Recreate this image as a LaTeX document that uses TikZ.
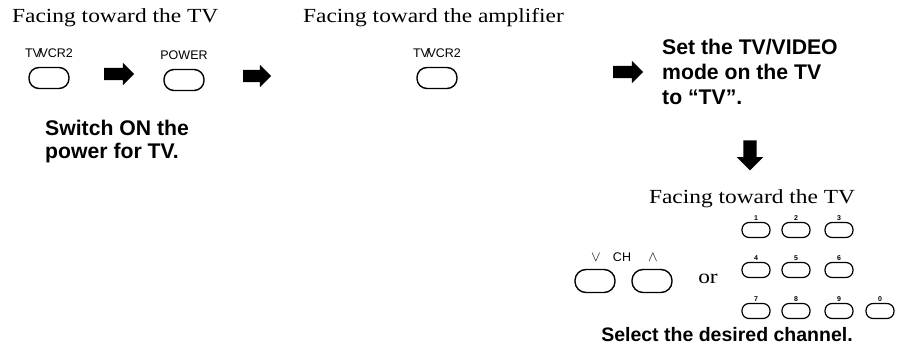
\documentclass[tikz,border=0pt]{standalone}
\usepackage{fontspec}
\setmainfont[FakeStretch=1.17]{Liberation Serif}
\setsansfont{Liberation Sans}
\usetikzlibrary{positioning,shapes.arrows}

\begin{document}
\begin{tikzpicture}[
  x=1pt, y=-1pt,
  node distance=3pt,
  titulo/.style={font=\fontsize{20}{24}\selectfont, inner sep=0pt, anchor=base west},
  passo/.style={font=\sffamily\bfseries\fontsize{21.2}{23}\selectfont, align=left, inner sep=0pt, anchor=base west},
  tecla/.style={draw=black, line width=1.4pt, rounded corners=10pt, minimum width=40pt, minimum height=21pt, inner sep=0pt},
  teclinha/.style={tecla, line width=1.2pt, rounded corners=7pt, minimum width=28pt, minimum height=15pt},
  rotulo/.style={font=\sffamily\fontsize{12.5}{13}\selectfont, inner sep=0pt},
  digito/.style={font=\sffamily\bfseries\fontsize{7}{8}\selectfont, inner sep=1.5pt},
  seta/.style={single arrow, fill=black, inner xsep=0pt, inner ysep=6pt, minimum height=30pt,
               single arrow head extend=5pt, single arrow head indent=0pt}
]
\useasboundingbox (0,0) rectangle (902,348);

% ---------------- Lado da TV ----------------
\node[titulo] (t1) at (12,23) {Facing toward the TV};
\node[tecla] (vcr1) at (49,78) {};
\node[rotulo, above=9pt of vcr1] (lvcr1) {TV\kern-2.5pt/\kern-2.5pt VCR2};
\node[seta] (s1) at (116,74) {};
\node[tecla] (pwr) at (184,80) {};
\node[rotulo, above=9pt of pwr] (lpwr) {POWER};
\node[seta, minimum height=28pt] (s2) at (254,76) {};
\node[passo] (p1) at (45,158) {Switch ON the\\power for TV.};

% ---------------- Lado do amplificador ----------------
\node[titulo] (t2) at (303,23) {Facing toward the amplifier};
\node[tecla] (vcr2) at (437,78) {};
\node[rotulo, above=9pt of vcr2] (lvcr2) {TV\kern-2.5pt/\kern-2.5pt VCR2};
\node[seta] (s3) at (625,72) {};
\node[passo, font=\sffamily\bfseries\fontsize{21.2}{25}\selectfont] (p2) at (662,104) {Set the TV/VIDEO\\mode on the TV\\to “TV”.};
\node[seta, rotate=-90, inner ysep=6.5pt, single arrow head extend=6.5pt] (s4) at (750,152) {};

% ---------------- Canal ----------------
\node[titulo, anchor=base] (t3) at (752,203) {Facing toward the TV};
\node[tecla, minimum height=23pt, rounded corners=11pt] (chd) at (595,281) {};
\node[tecla, minimum height=23pt, rounded corners=11pt] (chu) at (652,281) {};
\node[rotulo] (lch) at (622,257) {CH};
\node[inner sep=0pt, font=\fontsize{15}{15}\selectfont] (ldn) at (596,257) {$\vee$};
\node[inner sep=0pt, font=\fontsize{15}{15}\selectfont] (lup) at (653,257) {$\wedge$};
\node[inner sep=0pt, font=\fontsize{20}{24}\selectfont] (ou) at (708,279) {or};

\node[teclinha, label={[digito]above:1}] (k1) at (756,230) {};
\node[teclinha, label={[digito]above:2}] (k2) at (796,230) {};
\node[teclinha, label={[digito]above:3}] (k3) at (839,230) {};
\node[teclinha, label={[digito]above:4}] (k4) at (756,270) {};
\node[teclinha, label={[digito]above:5}] (k5) at (796,270) {};
\node[teclinha, label={[digito]above:6}] (k6) at (839,270) {};
\node[teclinha, label={[digito]above:7}] (k7) at (756,311) {};
\node[teclinha, label={[digito]above:8}] (k8) at (796,311) {};
\node[teclinha, label={[digito]above:9}] (k9) at (839,311) {};
\node[teclinha, label={[digito]above:0}] (k0) at (880,311) {};

\node[passo, anchor=base, font=\sffamily\bfseries\fontsize{19.5}{24}\selectfont] (p3) at (727,341) {Select the desired channel.};

\end{tikzpicture}
\end{document}
